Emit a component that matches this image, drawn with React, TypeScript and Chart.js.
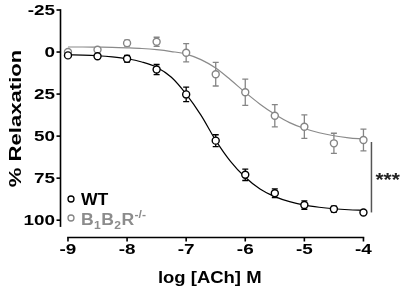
import { useEffect, useRef } from "react";
import { Chart, registerables } from "chart.js";

Chart.register(...registerables);

// ---- data ----
const doses = [-9, -8.5, -8, -7.5, -7, -6.5, -6, -5.5, -5, -4.5, -4];
const wtMean = [2, 2.5, 4, 10.4, 25.2, 52.7, 73, 84, 91, 93.4, 95.4];
const wtSem = [0, 0, 2, 3, 4.3, 3.5, 3.4, 2.6, 2.5, 1.8, 0];
const koMean = [0, -1.4, -5.3, -6.1, 0.4, 13.2, 23.9, 37.9, 44.4, 54.3, 52.3];
const koSem = [0, 0, 1.8, 2.7, 5.4, 7, 7.8, 6.6, 7, 6, 6.5];

const fitX = [-9, -8.75, -8.5, -8.25, -8, -7.75, -7.5, -7.25, -7, -6.75, -6.5, -6.25, -6, -5.75, -5.5, -5.25, -5, -4.75, -4.5, -4.25, -4];
const wtFit = [1.6, 1.8, 2.2, 2.9, 4.0, 5.9, 9.0, 15.0, 25.0, 37.5, 52.5, 65, 74.5, 81.5, 86, 89, 91, 92.3, 93.2, 93.8, 94.2];
const koFit = [-3.0, -3.0, -2.9, -2.8, -2.5, -2.1, -1.4, -0.3, 1.2, 4.5, 9.5, 16.5, 24, 31, 37, 42, 45.5, 48, 49.8, 51, 51.8];

const xTicks = [-9, -8, -7, -6, -5, -4];
const yTicks = [-25, 0, 25, 50, 75, 100];

const xTitle = "log [ACh] M";
const yTitle = "% Relaxation";
const wtLabel = "WT";
const koLabel = ["B", "1", "B", "2", "R", "-/-"];
const sigLabel = "***";

const BLACK = "#000000";
const GRAY = "#858585";
const GRAY_LINE = "#8a8a8a";
const GRAY_TEXT = "#8c8c8c";
const FONT = "Arial, 'Liberation Sans', Helvetica, sans-serif";

function sText(ctx: CanvasRenderingContext2D, text: string, x: number, y: number, sx: number, align: CanvasTextAlign) {
  ctx.save();
  ctx.translate(x, y);
  ctx.scale(sx, 1);
  ctx.textAlign = align;
  ctx.textBaseline = "alphabetic";
  ctx.fillText(text, 0, 0);
  ctx.restore();
}

const customPlugin = {
  id: "customDraw",
  beforeDatasetsDraw(chart: any) {
    const ctx: CanvasRenderingContext2D = chart.ctx;
    const xs = chart.scales.x;
    const ys = chart.scales.y;
    const bars = (mean: number[], sem: number[], color: string) => {
      ctx.save();
      ctx.strokeStyle = color;
      ctx.lineWidth = 1.3;
      doses.forEach((d, i) => {
        if (!sem[i]) return;
        const px = xs.getPixelForValue(d);
        const t = ys.getPixelForValue(mean[i] - sem[i]);
        const b = ys.getPixelForValue(mean[i] + sem[i]);
        ctx.beginPath();
        ctx.moveTo(px, t);
        ctx.lineTo(px, b);
        ctx.moveTo(px - 3, t);
        ctx.lineTo(px + 3, t);
        ctx.moveTo(px - 3, b);
        ctx.lineTo(px + 3, b);
        ctx.stroke();
      });
      ctx.restore();
    };
    bars(koMean, koSem, GRAY);
    bars(wtMean, wtSem, BLACK);
  },
  afterDraw(chart: any) {
    const ctx: CanvasRenderingContext2D = chart.ctx;
    const xs = chart.scales.x;
    const ys = chart.scales.y;
    const area = chart.chartArea;
    ctx.save();
    ctx.strokeStyle = BLACK;
    ctx.fillStyle = BLACK;
    ctx.lineWidth = 1.6;
    // y axis line
    const ax = area.left + 0.5;
    ctx.beginPath();
    ctx.moveTo(ax, ys.getPixelForValue(yTicks[0]) - 0.8);
    ctx.lineTo(ax, ys.getPixelForValue(104));
    ctx.stroke();
    // y ticks
    ctx.font = `bold 14px ${FONT}`;
    ys.ticks.forEach((t: any) => {
      const py = ys.getPixelForValue(t.value);
      ctx.beginPath();
      ctx.moveTo(ax - 4, py);
      ctx.lineTo(ax, py);
      ctx.stroke();
      sText(ctx, String(t.value), ax - 5.5, py + 5, 1.35, "right");
    });
    // x axis line
    const ay = area.bottom + 0.5;
    ctx.beginPath();
    ctx.moveTo(xs.getPixelForValue(xTicks[0]) - 0.8, ay);
    ctx.lineTo(xs.getPixelForValue(xTicks[xTicks.length - 1]) + 0.8, ay);
    ctx.stroke();
    xs.ticks.forEach((t: any) => {
      const px = xs.getPixelForValue(t.value);
      ctx.beginPath();
      ctx.moveTo(px, ay);
      ctx.lineTo(px, ay + 4);
      ctx.stroke();
      sText(ctx, String(t.value), px, ay + 16, 1.35, "center");
    });
    // titles
    ctx.font = `bold 16px ${FONT}`;
    sText(ctx, xTitle, (xs.getPixelForValue(xTicks[0]) + xs.getPixelForValue(xTicks[xTicks.length - 1])) / 2 - 6, 283, 1.155, "center");
    ctx.save();
    ctx.translate(21, (ys.getPixelForValue(yTicks[0]) + ys.getPixelForValue(104)) / 2);
    ctx.rotate(-Math.PI / 2);
    ctx.font = `bold 17px ${FONT}`;
    sText(ctx, yTitle, 0, 0, 1.3, "center");
    ctx.restore();

    // legend
    const lx = 71;
    const drawMarker = (y: number, color: string) => {
      ctx.save();
      ctx.strokeStyle = color;
      ctx.fillStyle = "#ffffff";
      ctx.lineWidth = 1.3;
      ctx.beginPath();
      ctx.arc(lx, y, 3, 0, Math.PI * 2);
      ctx.fill();
      ctx.stroke();
      ctx.restore();
    };
    drawMarker(199, BLACK);
    drawMarker(218, GRAY);
    ctx.fillStyle = BLACK;
    ctx.font = `bold 16px ${FONT}`;
    sText(ctx, wtLabel, 81, 205, 1.1, "left");
    ctx.fillStyle = GRAY_TEXT;
    let cx = 81;
    koLabel.forEach((part, i) => {
      const isSub = i === 1 || i === 3;
      const isSup = i === 5;
      const size = isSub || isSup ? 11 : 16;
      const dy = isSub ? 4 : isSup ? -7 : 0;
      ctx.font = `bold ${size}px ${FONT}`;
      sText(ctx, part, cx, 225 + dy, 1.1, "left");
      cx += ctx.measureText(part).width * 1.1 + 0.4;
    });

    // significance bracket
    const bx = xs.getPixelForValue(doses[doses.length - 1]) + 8;
    const y1 = ys.getPixelForValue(koMean[koMean.length - 1]) + 2;
    const y2 = ys.getPixelForValue(wtMean[wtMean.length - 1]);
    ctx.strokeStyle = "#555555";
    ctx.lineWidth = 1.5;
    ctx.beginPath();
    ctx.moveTo(bx, y1);
    ctx.lineTo(bx, y2);
    ctx.stroke();
    ctx.fillStyle = "#222222";
    ctx.font = `bold 19px ${FONT}`;
    sText(ctx, sigLabel, bx + 4, (y1 + y2) / 2 + 9, 1.1, "left");
    ctx.restore();
  },
};

export default function App() {
  const ref = useRef<HTMLCanvasElement | null>(null);
  useEffect(() => {
    if (!ref.current) return;
    const chart = new Chart(ref.current, {
      type: "scatter",
      data: {
        datasets: [
          {
            label: "WT",
            data: doses.map((d, i) => ({ x: d, y: wtMean[i] })),
            showLine: false,
            pointRadius: 3.5,
            pointBorderWidth: 1.4,
            pointBackgroundColor: "#ffffff",
            pointBorderColor: BLACK,
            order: 0,
          },
          {
            label: "B1B2R-/-",
            data: doses.map((d, i) => ({ x: d, y: koMean[i] })),
            showLine: false,
            pointRadius: 3.5,
            pointBorderWidth: 1.4,
            pointBackgroundColor: "#ffffff",
            pointBorderColor: GRAY,
            order: 1,
          },
          {
            label: "WT fit",
            type: "line",
            data: fitX.map((d, i) => ({ x: d, y: wtFit[i] })),
            borderColor: BLACK,
            borderWidth: 1.2,
            pointRadius: 0,
            cubicInterpolationMode: "monotone",
            fill: false,
            order: 2,
          },
          {
            label: "KO fit",
            type: "line",
            data: fitX.map((d, i) => ({ x: d, y: koFit[i] })),
            borderColor: GRAY_LINE,
            borderWidth: 1.2,
            pointRadius: 0,
            cubicInterpolationMode: "monotone",
            fill: false,
            order: 3,
          },
        ] as any,
      },
      options: {
        animation: false,
        responsive: false,
        maintainAspectRatio: false,
        devicePixelRatio: 1,
        layout: { padding: { top: 10, right: 10, left: 0, bottom: 0 } },
        plugins: { legend: { display: false }, tooltip: { enabled: false } },
        scales: {
          x: {
            type: "linear",
            min: -9.135,
            max: -3.5,
            afterBuildTicks: (s: any) => {
              s.ticks = xTicks.map((v) => ({ value: v }));
            },
            afterFit: (s: any) => {
              s.height = 53;
            },
            grid: { display: false },
            border: { display: false },
            ticks: { display: false },
          },
          y: {
            type: "linear",
            reverse: true,
            min: -25,
            max: 110,
            afterBuildTicks: (s: any) => {
              s.ticks = yTicks.map((v) => ({ value: v }));
            },
            afterFit: (s: any) => {
              s.width = 60;
            },
            grid: { display: false },
            border: { display: false },
            ticks: { display: false },
          },
        },
      } as any,
      plugins: [customPlugin],
    });
    return () => chart.destroy();
  }, []);
  return (
    <div style={{ position: "absolute", left: 0, top: 0, width: 403, height: 290, background: "#fff" }}>
      <canvas ref={ref} width={403} height={290} style={{ display: "block", width: 403, height: 290 }} />
    </div>
  );
}
